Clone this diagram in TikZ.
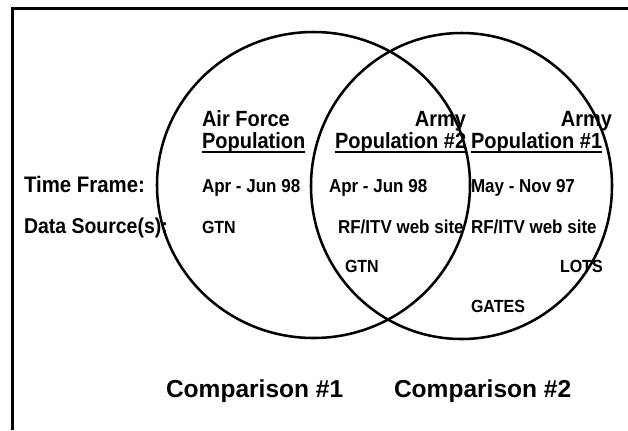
\documentclass[tikz,border=0pt]{standalone}
\usepackage{fontspec}
\usepackage{graphicx}
\setmainfont{Liberation Sans}
\usetikzlibrary{calc}
\newcommand{\vstretch}[1]{\scalebox{1}[1.1]{#1}}
\begin{document}
\begin{tikzpicture}[x=0.75pt,y=-0.75pt,
  txt/.style={inner sep=0pt,outer sep=0pt,anchor=base west},
  head/.style={txt,font=\fontsize{15}{18}\selectfont\bfseries},
  rowlbl/.style={txt,font=\fontsize{15.3}{18}\selectfont\bfseries},
  datum/.style={txt,font=\fontsize{12.75}{15}\selectfont\bfseries},
  small/.style={txt,font=\fontsize{12}{14}\selectfont\bfseries},
  cmp/.style={txt,font=\fontsize{18.4}{22}\selectfont\bfseries},
  ring/.style={line width=1.9pt},
  frameline/.style={line width=2.25pt},
  uline/.style={line width=1.4pt}]
\useasboundingbox (0,0) rectangle (628,430);
% frame
\draw[frameline] (12.5,430) -- (12.5,8.5) -- (628,8.5);
% circles
\draw[ring] (313.5,185) ellipse [x radius=156.5, y radius=153];
\draw[ring] (461.5,186) ellipse [x radius=150.5, y radius=153];
% headings
\node[head] (afa) at (202,126) {\vstretch{Air Force}};
\node[head] (afp) at (202,148) {\vstretch{Population}};
\node[head,anchor=base east] (a2) at (466,126) {\vstretch{Army}};
\node[head] (p2) at (335,148) {\vstretch{Population \#2}};
\node[head,anchor=base east] (a1) at (612,126) {\vstretch{Army}};
\node[head] (p1) at (471,148) {\vstretch{Population \#1}};
\draw[uline] ($(afp.base west)+(0,4)$) -- ($(afp.base east)+(0,4)$);
\draw[uline] ($(p2.base west)+(0,4)$) -- ($(p2.base east)+(0,4)$);
\draw[uline] ($(p1.base west)+(0,4)$) -- ($(p1.base east)+(0,4)$);
% row labels
\node[rowlbl] (tf) at (24,192) {\vstretch{Time Frame:}};
\node[rowlbl,font=\fontsize{14.6}{18}\selectfont\bfseries] (ds) at (24,233) {\vstretch{Data Source(s):}};
% data
\node[datum] (t1) at (202,192) {\vstretch{Apr - Jun 98}};
\node[datum] (t2) at (329,192) {\vstretch{Apr - Jun 98}};
\node[datum] (t3) at (471,192) {\vstretch{May - Nov 97}};
\node[small] (s1) at (202,233) {\vstretch{GTN}};
\node[datum] (s2) at (338,233) {\vstretch{RF/ITV web site}};
\node[datum] (s3) at (471,233) {\vstretch{RF/ITV web site}};
\node[small] (s4) at (345,272) {\vstretch{GTN}};
\node[small] (s5) at (560,272) {\vstretch{LOTS}};
\node[small] (s6) at (471,312) {\vstretch{GATES}};
% comparisons
\node[cmp] (c1) at (166,397) {Comparison \#1};
\node[cmp] (c2) at (394,397) {Comparison \#2};
\end{tikzpicture}
\end{document}
